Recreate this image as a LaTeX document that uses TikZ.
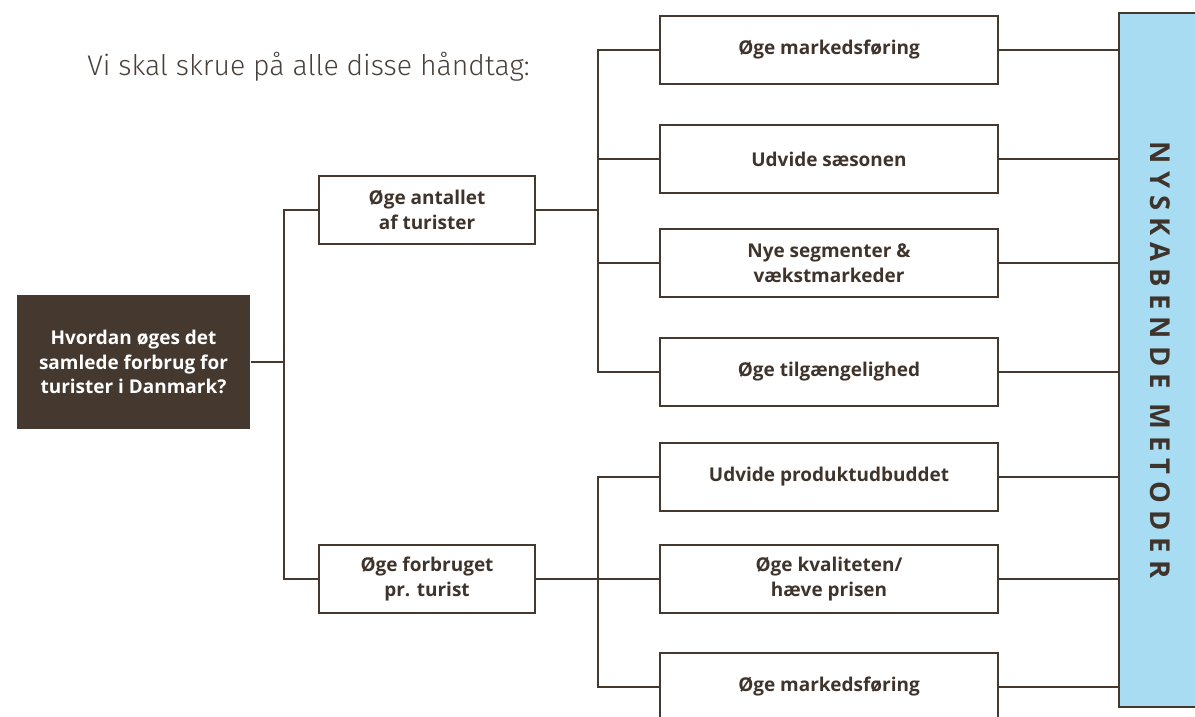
\documentclass[tikz,border=0pt]{standalone}
\usepackage{fontspec}
\usepackage{graphicx}
\setmainfont{Open Sans}
\newfontfamily\lightfont{Fira Sans Light}
\newfontfamily\spacedfont[LetterSpace=26]{Open Sans}
\usepackage{tikz}
\usetikzlibrary{positioning}

\definecolor{linebrown}{HTML}{45382F}
\definecolor{textbrown}{HTML}{3F342C}
\definecolor{titlebrown}{HTML}{4A403A}
\definecolor{panelblue}{HTML}{A8DCF2}

\begin{document}
\begin{tikzpicture}[
  x=0.025cm, y=-0.025cm,
  box/.style={draw=linebrown, line width=1.8pt, fill=white, minimum width=8.45cm, minimum height=1.7cm, align=center, text=textbrown, font=\bfseries\fontsize{13.5}{17.7}\selectfont},
  midbox/.style={box, minimum width=5.4cm},
  rootbox/.style={box, fill=linebrown, draw=none, minimum width=5.825cm, minimum height=3.35cm, text=white},
  panel/.style={draw=linebrown, line width=1.8pt, fill=panelblue, minimum width=2.05cm, minimum height=17.35cm, text=textbrown},
  link/.style={draw=linebrown, line width=1.8pt},
]
\useasboundingbox (0,0) rectangle (1195,716);

% Title
\node[anchor=base west, inner sep=0pt, text=titlebrown, font=\lightfont\fontsize{20.2}{24}\selectfont] (title) at (87,76) {Vi skal skrue på alle disse håndtag:};

% Question
\node[rootbox] (question) at (133.5,362) {Hvordan øges det\\samlede forbrug for\\turister i Danmark?};

% Two levers
\node[midbox] (antal) at (427,210) {Øge antallet\\af turister};
\node[midbox] (forbrug) at (427,579) {Øge forbruget\\pr. turist};

% Methods for more tourists
\node[box] (marked) at (829,50) {Øge markedsføring};
\node[box] (saeson) at (829,159) {Udvide sæsonen};
\node[box] (segment) at (829,263) {Nye segmenter \&\\vækstmarkeder};
\node[box] (adgang) at (829,372) {Øge tilgængelighed};

% Methods for more spending
\node[box] (produkt) at (829,477) {Udvide produktudbuddet};
\node[box] (kvalitet) at (829,579) {Øge kvaliteten/\\hæve prisen};
\node[box] (markedto) at (829,687) {Øge markedsføring};

% Side panel
\node[panel] (metoder) at (1160,360) {\rotatebox{-90}{\spacedfont\bfseries\fontsize{19.5}{22}\selectfont NYSKABENDE METODER}};

% Branch points
\coordinate (trunk) at (284,362);
\coordinate (splitA) at (598,210);
\coordinate (splitB) at (598,579);

% Connectors
\draw[link] (question.east) -- (trunk);
\draw[link] (antal.west) -| (trunk) |- (forbrug.west);
\draw[link] (antal.east) -- (splitA);
\draw[link] (forbrug.east) -- (splitB);
\draw[link] (marked.west) -| (splitA) |- (adgang.west);
\draw[link] (saeson.west) -| (splitA) |- (segment.west);
\draw[link] (produkt.west) -| (splitB) |- (markedto.west);
\draw[link] (splitB) -- (kvalitet.west);

% Into the panel
\draw[link] (marked.east) -- (marked.east -| metoder.west);
\draw[link] (saeson.east) -- (saeson.east -| metoder.west);
\draw[link] (segment.east) -- (segment.east -| metoder.west);
\draw[link] (adgang.east) -- (adgang.east -| metoder.west);
\draw[link] (produkt.east) -- (produkt.east -| metoder.west);
\draw[link] (kvalitet.east) -- (kvalitet.east -| metoder.west);
\draw[link] (markedto.east) -- (markedto.east -| metoder.west);

\end{tikzpicture}
\end{document}
